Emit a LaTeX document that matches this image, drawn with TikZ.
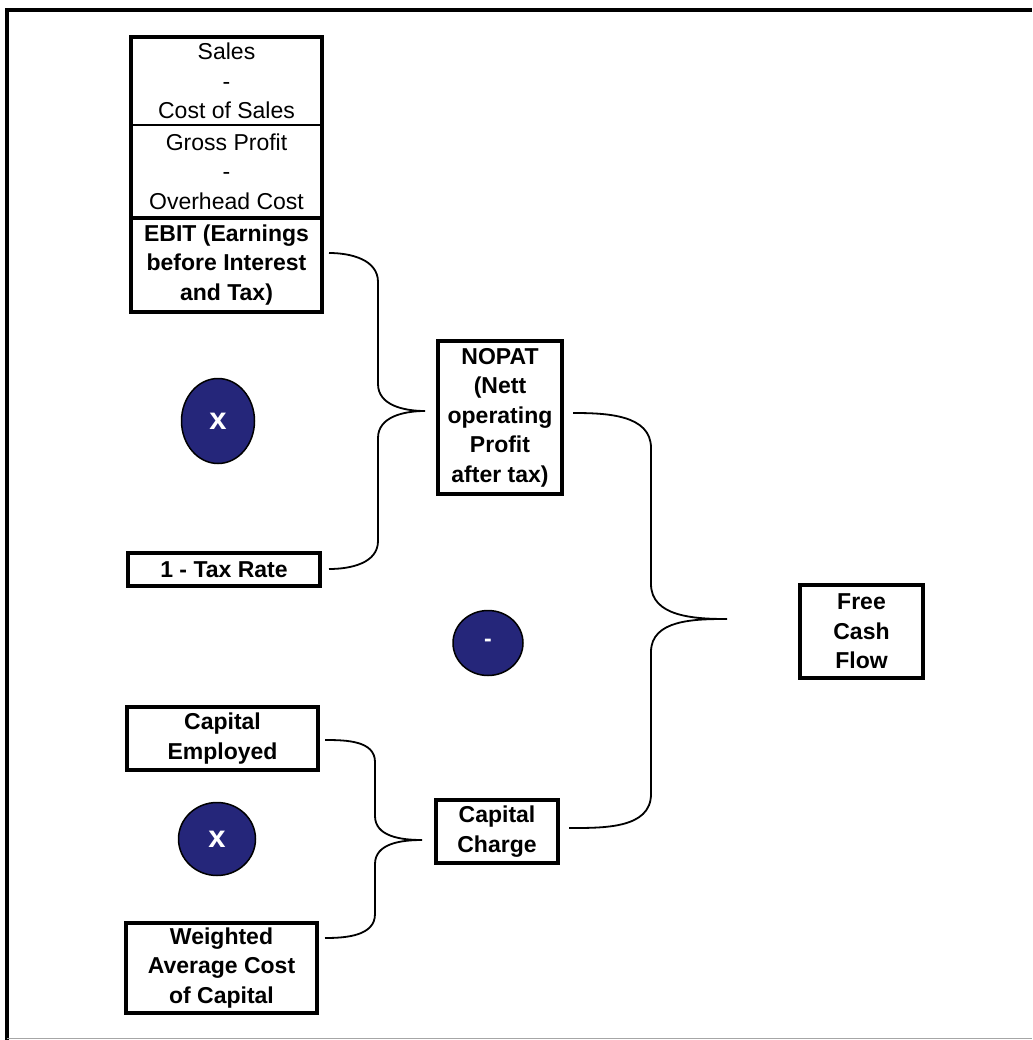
\documentclass[tikz,border=0pt]{standalone}
\usepackage{fontspec}
\setmainfont{Liberation Sans}
\usetikzlibrary{shapes.geometric}
\definecolor{navy}{HTML}{25267A}
\begin{document}
\begin{tikzpicture}[x=1pt,y=-1pt,
  every node/.style={inner sep=0pt,outer sep=0pt,align=center,
    font=\fontsize{23}{29.5}\selectfont},
  box/.style={draw,line width=3.4pt},
  plain/.style={draw=none},
  bold/.style={font=\fontsize{23}{29.5}\selectfont\bfseries},
  op/.style={ellipse,draw=black,line width=1.5pt,fill=navy,text=white,
    font=\fontsize{31}{32}\selectfont\bfseries},
  brace/.style={line width=1.8pt}]
\useasboundingbox (0,0) rectangle (1032,1040);
% page frame
\draw[line width=3.4pt] (7,1040) -- (7,10) -- (1032,10);
\draw[line width=1pt,black!35] (7,1038) -- (1032,1038);

% income statement stack
\node[plain,minimum width=191,minimum height=88] (s1) at (226.5,81) {Sales\\-\\Cost of Sales};
\node[plain,minimum width=191,minimum height=93] (s2) at (226.5,171.5) {Gross Profit\\-\\Overhead Cost};
\node[plain,bold,minimum width=191,minimum height=94] (s3) at (226.5,265) {EBIT (Earnings\\before Interest\\and Tax)};
\draw[line width=3.4pt] (s1.north west) rectangle (s3.south east);
\draw[line width=1.4pt] (s1.south west) -- (s1.south east);
\draw[line width=3.4pt] (s2.south west) -- (s2.south east);

\node[box,bold,minimum width=192,minimum height=33] (tax) at (224,569.5) {1 - Tax Rate};
\node[box,bold,minimum width=124,minimum height=153] (nopat) at (500,417.5) {NOPAT\\(Nett\\operating\\Profit\\after tax)};
\node[box,bold,minimum width=191,minimum height=63] (ce) at (222.5,738.5) {Capital\\Employed};
\node[box,bold,minimum width=191,minimum height=90] (wacc) at (221.5,968) {Weighted\\Average Cost\\of Capital};
\node[box,bold,minimum width=122,minimum height=63] (cc) at (497,831.5) {Capital\\Charge};
\node[box,bold,minimum width=123,minimum height=93] (fcf) at (861.5,631.5) {Free\\Cash\\Flow};

% operators
\node[op,minimum width=73,minimum height=85] (mul1) at (218,421) {x};
\node[op,minimum width=70,minimum height=65,font=\fontsize{23}{24}\selectfont\bfseries] (minus) at (488,643) {-};
\node[op,minimum width=77,minimum height=73] (mul2) at (217,839) {x};

% brace: EBIT and tax rate into NOPAT
\coordinate (b1a) at (329,253);
\coordinate (b1t) at (425,411);
\coordinate (b1b) at (329,569);
\draw[brace] (b1a) to[out=0,in=90] (378,282) -- (378,384)
  to[out=-90,in=180] (b1t) to[out=180,in=90] (378,438) -- (378,541)
  to[out=-90,in=0] (b1b);

% brace: NOPAT and capital charge into free cash flow
\coordinate (b2a) at (573,413);
\coordinate (b2t) at (727,619);
\coordinate (b2b) at (569,828);
\draw[brace] (b2a) to[out=0,in=90] (651,448) -- (651,584)
  to[out=-90,in=180] (b2t) to[out=180,in=90] (651,652) -- (651,794)
  to[out=-90,in=0] (b2b);

% brace: capital employed and WACC into capital charge
\coordinate (b3a) at (325,740);
\coordinate (b3t) at (422,840);
\coordinate (b3b) at (325,938);
\draw[brace] (b3a) to[out=0,in=90] (375,762) -- (375,816)
  to[out=-90,in=180] (b3t) to[out=180,in=90] (375,864) -- (375,914)
  to[out=-90,in=0] (b3b);
\end{tikzpicture}
\end{document}
